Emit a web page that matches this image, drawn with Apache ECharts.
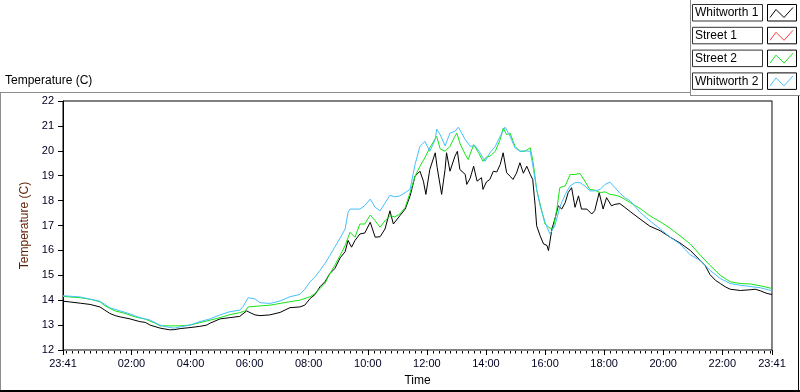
<!DOCTYPE html>
<html><head><meta charset="utf-8">
<script src="https://cdn.jsdelivr.net/npm/echarts@6/dist/echarts.min.js"></script>
<style>html,body{margin:0;padding:0;background:#fff}#c{width:800px;height:392px}</style>
</head><body><div id="c"></div>
<script>
// ---- data (x = minutes elapsed since 23:41) ----
const seriesNames = ['Whitworth 1', 'Street 1', 'Street 2', 'Whitworth 2'];
const seriesColors = ['#000000', '#ff3c3c', '#14e614', '#45c0ff'];

const whitworth1Minutes = [0,14,35,55,75,85,95,106,116,136,156,167,177,197,217,227,238,258,278,292,299,319,339,359,373,380,390,400,420,441,461,481,491,502,512,522,532,542,552,563,573,579,586,593,603,613,624,634,644,654,664,671,684,695,705,715,725,732,737,745,756,760,769,776,779,786,796,801,806,817,820,827,834,841,850,853,860,867,874,881,888,894,901,908,914,921,928,935,942,949,954,959,962,969,976,983,986,993,999,1006,1013,1020,1026,1033,1040,1047,1053,1064,1074,1080,1089,1097,1104,1114,1121,1131,1141,1152,1172,1192,1213,1233,1253,1274,1294,1304,1314,1325,1335,1345,1355,1376,1396,1406,1416,1430,1440];
const whitworth1Temp = [13.96,13.93,13.88,13.83,13.73,13.6,13.47,13.38,13.33,13.25,13.14,13.11,13.0,12.88,12.81,12.82,12.86,12.9,12.95,13.0,13.08,13.25,13.3,13.35,13.57,13.5,13.41,13.38,13.41,13.51,13.7,13.73,13.8,14.07,14.23,14.54,14.74,15.07,15.27,15.7,15.95,16.4,16.13,16.4,16.66,16.7,17.13,16.53,16.55,16.86,17.59,17.06,17.39,17.66,18.19,18.98,19.18,18.78,18.25,19.25,19.92,19.32,18.25,19.25,19.92,19.18,19.78,19.98,19.25,19.05,18.65,18.9,19.38,18.78,18.92,18.45,18.75,18.85,19.18,19.15,19.45,19.92,19.12,18.98,18.85,19.1,19.52,19.1,19.38,19.05,18.85,17.79,16.99,16.59,16.26,16.2,15.99,16.86,17.26,17.79,17.66,17.92,18.32,18.52,17.73,18.19,17.66,17.66,17.46,17.6,18.32,17.66,18.12,17.79,17.85,17.88,17.73,17.56,17.26,16.97,16.79,16.53,16.3,16.0,15.6,15.4,15.03,14.8,14.67,14.54,14.44,14.39,14.42,14.44,14.38,14.27,14.23];

const street1Minutes = [];
const street1Temp = [];

const street2Minutes = [0,35,55,75,85,95,106,126,146,167,187,197,217,238,258,278,299,319,339,359,370,376,400,420,441,461,481,502,512,522,532,542,552,563,573,583,593,603,613,624,634,644,654,664,674,684,695,705,715,725,735,745,759,766,776,786,796,800,806,817,823,834,844,853,860,867,878,888,894,901,908,918,928,938,949,955,962,969,979,989,996,1003,1009,1020,1030,1040,1050,1060,1070,1080,1091,1101,1111,1121,1131,1141,1152,1172,1192,1213,1233,1253,1274,1294,1314,1335,1355,1376,1396,1416,1440];
const street2Temp = [14.15,14.1,14.04,13.94,13.78,13.67,13.57,13.47,13.33,13.24,13.08,12.97,12.97,12.97,13.0,13.1,13.2,13.3,13.42,13.5,13.57,13.73,13.77,13.8,13.87,13.94,14.0,14.14,14.27,14.47,14.67,15.07,15.4,15.8,16.2,16.73,16.53,17.06,17.06,17.42,17.19,16.93,17.19,17.39,17.35,17.46,17.73,18.32,18.98,19.38,19.72,20.12,20.58,20.08,19.98,20.18,20.58,20.71,20.31,19.85,19.65,20.25,19.92,19.58,19.75,19.78,19.98,20.45,20.91,20.65,20.71,20.18,19.98,19.98,20.12,19.52,18.45,17.86,17.06,16.89,16.9,17.66,18.52,18.59,19.05,19.05,19.09,18.78,18.45,18.42,18.32,18.35,18.25,18.22,18.16,18.05,17.92,17.68,17.39,17.15,16.89,16.59,16.26,15.82,15.4,15.0,14.74,14.67,14.65,14.58,14.47];

const whitworth2Minutes = [0,35,55,75,95,116,136,156,177,197,217,227,238,258,278,299,319,339,359,366,376,390,400,420,441,461,481,491,502,512,522,532,542,552,563,573,579,583,603,613,624,634,644,654,664,674,684,695,705,715,725,735,745,756,759,766,776,786,796,803,817,827,837,847,857,867,878,888,898,908,918,928,938,949,955,962,969,979,989,999,1009,1020,1030,1040,1050,1060,1070,1080,1091,1101,1111,1121,1131,1141,1152,1172,1192,1213,1233,1253,1274,1294,1314,1335,1355,1376,1416,1440];
const whitworth2Temp = [14.18,14.13,14.04,13.96,13.7,13.57,13.45,13.3,13.2,13.0,12.9,12.88,12.93,13.0,13.14,13.25,13.41,13.54,13.6,13.75,14.1,14.05,13.9,13.87,13.97,14.14,14.23,14.44,14.74,14.94,15.2,15.47,15.8,16.13,16.5,16.86,17.53,17.66,17.66,17.8,18.06,17.73,17.59,17.9,18.21,18.15,18.19,18.32,18.45,19.45,20.18,20.38,19.98,20.45,20.87,20.65,20.2,20.71,20.78,20.95,20.45,20.18,20.2,19.92,19.58,19.92,20.18,20.58,20.95,20.58,20.12,19.98,20.0,19.98,19.32,18.45,17.79,17.13,16.66,16.99,17.73,18.25,18.59,18.72,18.72,18.59,18.39,18.39,18.45,18.65,18.74,18.52,18.3,18.12,17.99,17.53,17.19,16.86,16.53,16.26,15.82,15.6,15.2,14.87,14.67,14.6,14.5,14.38];

const xTickLabels = ['23:41','02:00','04:00','06:00','08:00','10:00','12:00','14:00','16:00','18:00','20:00','22:00','23:41'];
const xTickMinutes = [0,139,259,379,499,619,739,859,979,1099,1219,1339,1440];
const yMin = 12, yMax = 22, yStep = 1;

// ---- build ----
const minorTicks = [];
for (let m = 7; m < 1440; m += 12) if (xTickMinutes.indexOf(m) < 0) minorTicks.push(m);

function zip(xs, ys) { return xs.map((x, i) => [x, ys[i]]); }
const seriesData = [
  zip(whitworth1Minutes, whitworth1Temp),
  zip(street1Minutes, street1Temp),
  zip(street2Minutes, street2Temp),
  zip(whitworth2Minutes, whitworth2Temp)
];

const FONT = 'Liberation Sans';
const chart = echarts.init(document.getElementById('c'), null, {renderer: 'canvas'});

const legendGraphics = [];
seriesNames.forEach((n, i) => {
  const y0 = 4.5 + i * 22.8;
  legendGraphics.push(
    {type: 'rect', shape: {x: 692.5, y: y0, width: 70, height: 16.5}, style: {fill: '#fff', stroke: '#333', lineWidth: 1}},
    {type: 'text', x: 695, y: y0 + 8.5, style: {text: n, fill: '#000', font: '12px "' + FONT + '"', textVerticalAlign: 'middle'}},
    {type: 'rect', shape: {x: 767.5, y: y0, width: 29, height: 16.5}, style: {fill: '#fff', stroke: '#000', lineWidth: 1}},
    {type: 'polyline', shape: {points: [[770, y0 + 13], [776, y0 + 5], [784, y0 + 13], [793, y0 + 3]]}, style: {stroke: seriesColors[i], lineWidth: 1, fill: null}}
  );
});

const frameGraphics = [
  {type: 'text', x: 5, y: 81, style: {text: 'Temperature (C)', fill: '#000', font: '12px "' + FONT + '"', textVerticalAlign: 'middle'}},
  {type: 'line', shape: {x1: 0, y1: 92.5, x2: 690, y2: 92.5}, style: {stroke: '#8c8c8c', lineWidth: 1}},
  {type: 'line', shape: {x1: 0.5, y1: 92, x2: 0.5, y2: 392}, style: {stroke: '#8c8c8c', lineWidth: 1}},
  {type: 'line', shape: {x1: 0, y1: 391, x2: 800, y2: 391}, style: {stroke: '#000', lineWidth: 2}},
  {type: 'line', shape: {x1: 798.5, y1: 95, x2: 798.5, y2: 392}, style: {stroke: '#000', lineWidth: 1}},
  {type: 'line', shape: {x1: 690.5, y1: 0, x2: 690.5, y2: 95}, style: {stroke: '#8c8c8c', lineWidth: 1}},
  {type: 'line', shape: {x1: 690, y1: 95.5, x2: 800, y2: 95.5}, style: {stroke: '#8c8c8c', lineWidth: 1}}
];

const option = {
  animation: false,
  backgroundColor: '#fff',
  textStyle: {fontFamily: FONT},
  grid: {left: 63, top: 101, right: 28, bottom: 39, show: true, borderColor: '#000', borderWidth: 1},
  xAxis: [{
    type: 'value', min: 0, max: 1440, position: 'bottom',
    name: 'Time', nameLocation: 'middle', nameGap: 25,
    nameTextStyle: {color: '#000', fontSize: 12, fontFamily: FONT},
    axisLine: {show: true, lineStyle: {color: '#8a8a8a', width: 1}},
    axisTick: {show: true, length: 5, customValues: xTickMinutes, lineStyle: {color: '#000'}},
    axisLabel: {show: true, customValues: xTickMinutes, margin: 8, color: '#000022', fontSize: 11, fontFamily: FONT,
      formatter: v => { const i = xTickMinutes.indexOf(v); return i >= 0 ? xTickLabels[i] : ''; }},
    splitLine: {show: false}
  }],
  yAxis: [{
    type: 'value', min: yMin, max: yMax, interval: yStep, position: 'left',
    name: 'Temperature (C)', nameLocation: 'middle', nameGap: 26, nameRotate: 90,
    nameTextStyle: {color: '#5c1e00', fontSize: 12, fontFamily: FONT},
    axisLine: {show: true, lineStyle: {color: '#000', width: 1}},
    axisTick: {show: true, length: 5, lineStyle: {color: '#000'}},
    axisLabel: {margin: 9, color: '#000022', fontSize: 11, fontFamily: FONT},
    splitLine: {show: false}
  }, {
    type: 'value', min: yMin, max: yMax, position: 'right',
    axisLine: {show: true, lineStyle: {color: '#8a8a8a', width: 1}},
    axisTick: {show: false}, axisLabel: {show: false}, splitLine: {show: false}
  }],
  series: seriesNames.map((n, i) => ({
    name: n, type: 'line', data: seriesData[i], showSymbol: false, symbol: 'none',
    xAxisIndex: 0, yAxisIndex: 0,
    lineStyle: {color: seriesColors[i], width: 1}, itemStyle: {color: seriesColors[i]},
    z: 2 + i
  })),
  graphic: frameGraphics.concat(legendGraphics)
};
chart.setOption(option);

// minor ticks on the time axis, positioned through the axis scale
const axisY = Math.round(chart.convertToPixel({yAxisIndex: 0}, yMin)) + 0.5;
const minorGraphics = minorTicks.map(m => {
  const px = Math.round(chart.convertToPixel({xAxisIndex: 0}, m)) + 0.5;
  return {type: 'line', shape: {x1: px, y1: axisY, x2: px, y2: axisY + 3}, style: {stroke: '#000', lineWidth: 1}, silent: true};
});
chart.setOption({graphic: frameGraphics.concat(legendGraphics, minorGraphics)});
</script>
</body></html>
